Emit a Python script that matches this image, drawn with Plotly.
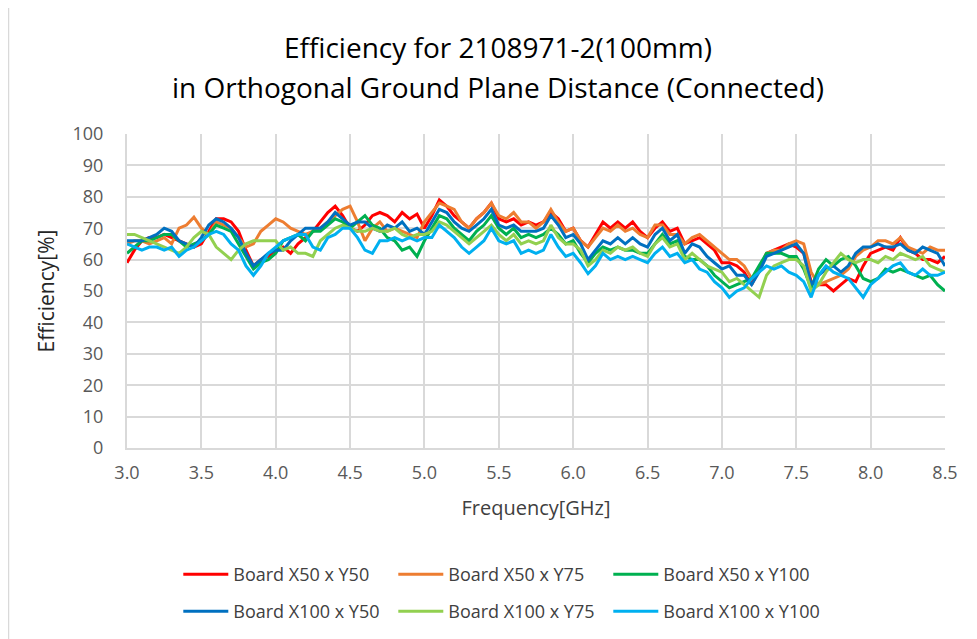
import plotly.graph_objects as go

freq = [round(3.0 + 0.05 * i, 2) for i in range(111)]

red = [59, 63, 66, 67, 67, 68, 67, 66, 65, 64, 65, 69, 73, 73, 72, 69, 63, 58, 60, 61,
       63, 64, 62, 65, 67, 69, 72, 75, 77, 74, 70, 69, 71, 74, 75, 74, 72, 75, 73, 74.5,
       70, 74, 79, 77, 74, 72, 70, 73, 75, 78, 73, 72, 73, 71, 72, 71, 72, 75, 73, 69,
       70, 66, 64, 68, 72, 70, 72, 70, 72, 69, 67, 70, 72, 69, 70, 65, 66, 67, 65, 63,
       59, 59, 58, 56, 52, 57, 62, 63, 64, 65, 64, 62, 53, 52, 52, 50, 52, 54, 53, 58,
       62, 63, 64, 63, 67, 63, 62, 60, 60, 59, 61]
orange = [65, 66, 66, 65, 66, 67, 65, 70, 71, 73.5, 70, 68, 72, 71, 70, 67, 64, 65, 69, 71,
          73, 72, 70, 69, 68, 69, 70, 72, 74, 76, 77, 72, 66, 70, 72, 69, 70, 69, 68, 67,
          72, 75, 78, 77, 76, 72, 70, 73, 75, 78, 74, 73, 75, 72, 72, 70, 72, 76, 72, 69,
          70, 66, 64, 67, 70, 69, 71, 69, 70, 68, 67, 71, 71, 68, 68, 65, 67, 68, 66, 64,
          62, 60, 60, 58, 54, 56, 62, 63, 63, 65, 66, 65, 56, 52, 53, 54, 55, 57, 61, 63,
          64, 66, 66, 65, 67, 64, 63, 62, 64, 63, 63]
green = [62, 64, 66, 66, 67, 68, 68, 66, 64, 65, 66, 68, 71, 70, 69, 65, 61, 57, 59, 60,
         62, 66, 67, 68, 66, 69, 69, 71, 73, 72, 70, 72, 74, 71, 70, 67, 66, 63, 64, 61,
         66, 70, 74, 73, 70, 68, 66, 69, 71, 74, 70, 68, 70, 67, 68, 67, 68, 70, 68, 65,
         66, 62, 59, 62, 64, 63, 64, 63, 63, 62, 62, 65, 68, 65, 66, 61, 60, 60, 58, 55,
         53, 51, 52, 53, 54, 58, 62, 62, 62, 61, 61, 57, 51, 57, 60, 58, 60, 61, 58, 54,
         53, 54, 57, 56, 57, 56, 55, 54, 55, 52, 50]
blue = [66, 66, 66, 67, 68, 70, 69, 66, 65, 64, 67, 71, 73, 72, 70, 67, 62, 58, 60, 62,
        63, 63, 66, 68, 70, 70, 70, 72, 75, 73, 71, 72, 72, 70, 69, 71, 70, 72, 69, 70,
        68, 72, 76, 75, 72, 70, 69, 71, 73, 76, 71, 70, 71, 69, 69, 69, 70, 74, 71, 67,
        68, 65, 60, 63, 66, 65, 67, 65, 67, 65, 64, 68, 70, 66, 68, 62, 65, 64, 61, 59,
        57, 58, 55, 55, 52, 56, 61, 62, 63, 64, 65, 62, 52, 55, 57, 58, 56, 58, 62, 64,
        64, 65, 64, 64, 65, 63, 62, 64, 63, 62, 58]
lightgreen = [68, 68, 67, 66, 65, 64, 63, 62, 64, 67, 69, 68, 64, 62, 60, 63, 65, 66, 66, 66,
              66, 63, 64, 62, 62, 61, 66, 68, 70, 71, 70, 69, 69, 70, 69, 69, 70, 68, 67, 68,
              68, 69, 72, 71, 69, 67, 65, 67, 69, 71, 68, 66, 68, 65, 66, 65, 66, 71, 67, 65,
              65, 63, 58, 60, 63, 62, 64, 63, 64, 62, 61, 65, 67, 64, 65, 60, 62, 60, 58, 57,
              56, 53, 54, 52, 50, 48, 55, 58, 59, 60, 60, 58, 50, 52, 56, 59, 62, 60, 59, 60,
              60, 59, 61, 60, 62, 61, 60, 61, 58, 57, 56]
cyan = [65, 64, 63, 64, 64, 63, 64, 61, 63, 64, 66, 68, 69, 68, 65, 63, 58, 55, 58, 62,
        64, 66, 67, 68, 68, 64, 63, 67, 68, 70, 70, 67, 63, 62, 66, 66, 67, 66, 67, 66,
        67, 67, 71, 69, 67, 64, 62, 64, 66, 70, 66, 65, 66, 62, 63, 62, 63, 68, 64, 61,
        62, 59, 55.5, 58, 62, 60, 61, 60, 61, 60, 59, 62, 64, 61, 62, 59, 60, 57, 56, 53,
        51, 48, 50, 51, 54, 56, 58, 57, 58, 56, 55, 53, 48, 55, 58, 56, 55, 54, 51, 48,
        52, 54, 56, 58, 59, 56, 55, 57, 55, 55, 56]

names = ["Board X50 x Y50", "Board X50 x Y75", "Board X50 x Y100",
         "Board X100 x Y50", "Board X100 x Y75", "Board X100 x Y100"]
colors = ["#FF0000", "#ED7D31", "#00B050", "#0070C0", "#92D050", "#00B0F0"]
series = [red, orange, green, blue, lightgreen, cyan]

title_lines = ["Efficiency for 2108971-2(100mm)",
               "in Orthogonal Ground Plane Distance (Connected)"]
x_ticks = [3.0, 3.5, 4.0, 4.5, 5.0, 5.5, 6.0, 6.5, 7.0, 7.5, 8.0, 8.5]
y_ticks = list(range(0, 101, 10))

FONT = "Open Sans, Noto Sans, sans-serif"
W, H = 969, 631
ML, MR, MT, MB = 119, 32, 126, 191
PW = W - ML - MR
PH = H - MT - MB

fig = go.Figure()
for i, (n, c, s) in enumerate(zip(names, colors, series)):
    fig.add_trace(go.Scatter(x=freq, y=s, name=n, mode="lines",
                             legend="legend" if i < 3 else "legend2",
                             line=dict(color=c, width=3)))

leg_common = dict(orientation="h", xanchor="left", yanchor="top",
                  entrywidth=155, entrywidthmode="pixels",
                  font=dict(family=FONT, size=18, color="#404040"),
                  itemwidth=45, bgcolor="rgba(0,0,0,0)")

fig.update_layout(
    width=W, height=H,
    paper_bgcolor="white", plot_bgcolor="white",
    margin=dict(l=ML, r=MR, t=MT, b=MB, autoexpand=False),
    font=dict(family=FONT, color="#595959", size=18),
    xaxis=dict(range=[3.0, 8.5], tickvals=x_ticks, ticktext=[f"{v:.1f}" for v in x_ticks],
               showgrid=True, gridcolor="#D9D9D9", gridwidth=2,
               showline=True, linecolor="#D9D9D9", linewidth=2,
               zeroline=False, ticks="", ticklabelstandoff=7,
               tickfont=dict(size=18, color="#595959"),
               title=dict(text="Frequency[GHz]", font=dict(size=20, color="#404040"), standoff=18)),
    yaxis=dict(range=[0, 100], tickvals=y_ticks,
               showgrid=True, gridcolor="#D9D9D9", gridwidth=2,
               showline=True, linecolor="#D9D9D9", linewidth=2,
               zeroline=False, ticks="", ticklabelstandoff=18,
               tickfont=dict(size=18, color="#595959"),
               title=dict(text="Efficiency[%]", font=dict(size=21, color="#262626"), standoff=12)),
    legend=dict(x=(170.3 - ML) / PW, y=-(548 - (MT + PH)) / PH, **leg_common),
    legend2=dict(x=(170.3 - ML) / PW, y=-(585 - (MT + PH)) / PH, **leg_common),
    showlegend=True,
)

# title as two centred lines
for txt, yc in zip(title_lines, [39, 79]):
    fig.add_annotation(text=txt, xref="paper", yref="paper",
                       x=(490 - ML) / PW, y=1 + (MT - yc) / PH,
                       xanchor="center", yanchor="middle", showarrow=False,
                       font=dict(family=FONT, size=28, color="#000000"))

fig.add_shape(type="line", xref="paper", yref="paper",
              x0=(0.5 - ML) / PW, x1=(0.5 - ML) / PW,
              y0=-(H - MT - PH) / PH, y1=1 + MT / PH,
              line=dict(color="#D9D9D9", width=1.5))

fig.write_html("out.html")
